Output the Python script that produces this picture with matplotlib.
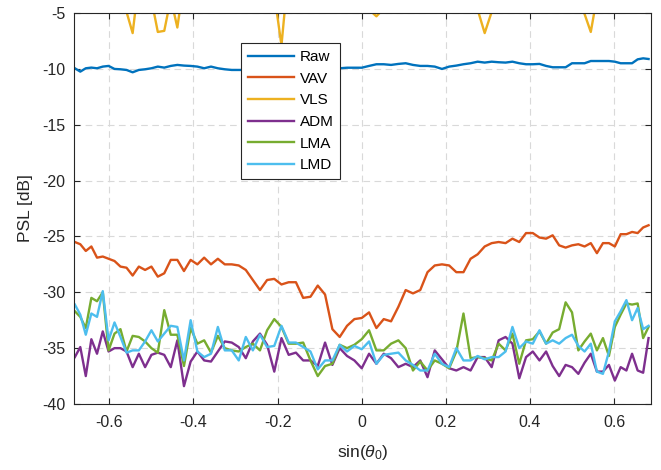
import numpy as np
import matplotlib
matplotlib.use("Agg")
import matplotlib.pyplot as plt

plt.rcParams['font.family'] = ['Liberation Sans', 'DejaVu Sans']
plt.rcParams['mathtext.fontset'] = 'custom'
plt.rcParams['mathtext.rm'] = 'Liberation Sans'
plt.rcParams['mathtext.it'] = 'Liberation Sans:italic'

# steering angles in degrees, x axis is sin(theta)
theta_deg = np.arange(-43, 44)

raw = [-9.95, -10.25, -9.95, -9.89, -9.95, -9.80, -9.74, -10.01, -10.04, -10.10,
       -10.31, -10.10, -10.04, -9.95, -9.80, -9.89, -9.74, -9.65, -9.71, -9.74,
       -9.80, -9.95, -9.80, -9.95, -10.04, -10.10, -10.10,
       -10.1, -10.15, -10.1, -10.1, -10.05, -10.05, -10.0, -10.0, -10.0, -10.0,
       -9.95, -9.95, -9.95, -9.95, -9.9, -9.9, -9.9,
       -9.74, -9.59, -9.59, -9.65, -9.56, -9.50, -9.65, -9.74, -9.74, -9.80,
       -10.01, -9.80, -9.71, -9.59, -9.50, -9.36, -9.44, -9.36, -9.41, -9.44,
       -9.36, -9.50, -9.59, -9.59, -9.56, -9.74, -9.86, -9.86, -9.86, -9.50,
       -9.50, -9.50, -9.30, -9.30, -9.30, -9.30, -9.36, -9.50, -9.50, -9.50,
       -9.15, -9.06, -9.12]

vav = [-25.5, -25.7, -26.3, -25.9, -26.9, -26.8, -27.0, -27.2, -27.7, -27.8,
       -28.5, -27.7, -28.0, -27.7, -28.6, -28.3, -27.1, -27.1, -28.1, -27.1,
       -27.5, -26.9, -27.5, -27.0, -27.5, -27.5, -27.6, -28.0, -28.9, -29.8,
       -28.9, -28.8, -29.3, -29.1, -29.1, -30.5, -30.4, -29.4, -30.2, -33.3,
       -34.0, -33.0, -32.4, -32.3,
       -31.8, -33.2, -32.4, -32.6, -31.3, -29.8, -30.1, -29.8, -28.2, -27.6,
       -27.5, -27.6, -28.2, -28.2, -27.0, -26.6, -25.9, -25.6, -25.5, -25.6,
       -25.2, -25.5, -24.7, -24.7, -25.1, -25.2, -24.9, -25.8, -26.0, -25.8,
       -25.7, -25.9, -25.6, -26.5, -25.6, -25.6, -25.9, -24.8, -24.8, -24.6,
       -24.7, -24.2, -24.0]

vls = [-4.0, -3.6, -4.1, -3.8, -3.5, -4.2, -3.9, -3.7, -4.0, -4.9,
       -6.8,
       -2.2, -3.9, -3.8,
       -6.7, -6.6,
       -3.7,
       -6.3,
       -2.2, -3.8, -4.0, -3.6, -3.9, -4.2, -3.7, -3.5, -4.1, -3.8, -3.6, -4.0, -3.9, -3.3,
       -7.9,
       -1.0, -3.8, -4.1, -3.7, -3.9, -3.6, -4.0, -3.8, -4.2, -3.9, -4.3, -4.7,
       -5.3,
       -4.6, -3.9, -4.0, -3.7, -3.6, -3.8, -4.1, -3.9, -3.7, -4.0, -3.8, -4.2, -3.9, -4.7,
       -6.8,
       -4.9, -3.9, -3.7, -4.0, -3.8, -3.6, -4.1, -3.9, -3.7, -4.0, -3.8, -4.1, -4.2, -4.0,
       -5.1, -6.7,
       -3.6, -3.9, -4.0, -3.7, -3.8, -4.1, -3.6, -3.9, -4.0, -3.8]

adm = [-35.8, -34.9, -37.5, -34.2, -35.5, -33.5, -35.3, -35.0, -35.0, -35.3,
       -36.7, -35.5, -36.7, -35.6, -35.4, -35.6, -36.7, -34.3, -38.4, -36.2,
       -35.3, -36.1, -36.2, -35.3,
       -34.4, -34.5, -34.9, -35.9, -34.4, -33.7, -34.7, -37.1, -34.1, -35.6,
       -35.4, -36.1, -36.1, -36.6, -34.5, -36.5, -35.0, -35.7, -36.1, -36.8,
       -35.5, -36.4, -35.5, -35.9, -36.7, -36.4, -36.7, -36.1, -37.6, -35.2,
       -36.0, -36.8, -37.0, -36.7, -37.0, -35.8, -35.8, -36.7, -34.3, -34.0,
       -34.6, -37.7, -35.8, -35.3, -36.1, -35.3, -36.6, -37.5, -36.5, -36.7,
       -37.3, -36.3, -35.5, -37.1, -37.1, -36.5, -37.9, -36.7, -37.0, -35.5,
       -37.0, -37.2, -34.1]

lma = [-31.7, -32.2, -33.2, -30.5, -30.8, -30.0, -35.2, -33.7, -33.3, -35.3,
       -33.9, -34.0, -34.4, -35.0, -35.4, -31.6, -33.8, -33.8, -36.6, -33.2,
       -34.6, -34.3, -35.4, -33.9,
       -35.0, -35.2, -35.3, -34.9, -34.6, -35.2, -33.4, -32.4, -33.1, -34.6,
       -34.6, -34.5, -36.1, -37.5, -36.6, -36.4, -34.7, -35.0, -34.7, -34.2,
       -33.4, -35.2, -35.2, -34.6, -34.3, -35.0, -37.0, -36.2, -37.0, -36.1,
       -36.4, -36.8, -35.3, -31.9, -35.9, -35.8, -35.9, -36.1, -34.6, -35.2,
       -33.7, -36.4, -34.3, -34.2, -33.5, -34.6, -33.6, -33.3, -30.9, -31.8,
       -35.2, -34.4, -33.7, -35.2, -34.1, -35.7, -33.1, -32.0, -31.0, -31.1,
       -31.0, -34.1, -33.1]

lmd = [-31.1, -32.0, -33.8, -31.9, -32.2, -29.9, -34.3, -32.7, -34.0, -35.4,
       -35.2, -35.2, -34.4, -33.4, -34.4, -33.7, -33.0, -33.1, -36.1, -32.5,
       -35.3, -35.8, -35.5, -33.1,
       -35.2, -35.2, -36.1, -34.0, -35.2, -33.8, -34.9, -34.8, -33.0, -34.5,
       -34.5, -34.9, -35.3, -36.9, -36.1, -36.1, -34.7, -35.3, -34.8, -35.1,
       -34.4, -36.4, -35.6, -35.5, -35.4, -36.1, -36.5, -37.0, -37.0, -35.5,
       -36.4, -36.7, -35.0, -36.1, -36.1, -35.7, -36.0, -35.8, -35.8, -35.3,
       -33.1, -35.0, -34.4, -34.6, -33.4, -34.6, -34.3, -34.6, -34.1, -33.8,
       -34.8, -35.3, -34.6, -37.1, -37.3, -35.3, -32.6, -31.7, -30.7, -32.5,
       -31.4, -33.3, -33.0]

names = ['Raw', 'VAV', 'VLS', 'ADM', 'LMA', 'LMD']
colors = ['#0072BD', '#D95319', '#EDB120', '#7E2F8E', '#77AC30', '#4DBEEE']

x = np.sin(np.deg2rad(theta_deg))

fig = plt.figure(figsize=(6.61, 4.70), dpi=100)
ax = fig.add_axes([0.112, 0.1404, 0.873, 0.832])

for series, name, c in zip([raw, vav, vls, adm, lma, lmd], names, colors):
    ax.plot(x, series, color=c, lw=1.7, label=name)

ax.set_xlim(-0.684, 0.688)
ax.set_ylim(-40, -5)
ax.set_xticks(np.arange(-0.6, 0.61, 0.2))
ax.set_xticklabels(['-0.6', '-0.4', '-0.2', '0', '0.2', '0.4', '0.6'])
ax.set_yticks(np.arange(-40, -4, 5))
ax.set_yticklabels([str(v) for v in range(-40, -4, 5)])

ax.grid(True, ls=(0, (6, 4)), color='0.85', lw=0.8)
ax.tick_params(direction='in', top=True, right=True, labelsize=11.5,
               length=4, color='0.15', labelcolor='0.15')
ax.tick_params(axis='x', pad=8)
ax.tick_params(axis='y', pad=6)
for s in ax.spines.values():
    s.set_color('0.15')
    s.set_linewidth(0.8)

ax.set_xlabel(r'sin($\theta_0$)', fontsize=12.5, color='0.15', labelpad=9)
ax.set_ylabel('PSL [dB]', fontsize=12.5, color='0.15', labelpad=7)

leg = ax.legend(loc='upper left', bbox_to_anchor=(0.289, 0.923), borderaxespad=0,
                fontsize=11, handlelength=3.0, handletextpad=0.4,
                labelspacing=0.5, fancybox=False, framealpha=1,
                edgecolor='0.15', borderpad=0.45)
leg.get_frame().set_linewidth(0.8)

fig.savefig('out.png', dpi=100)
